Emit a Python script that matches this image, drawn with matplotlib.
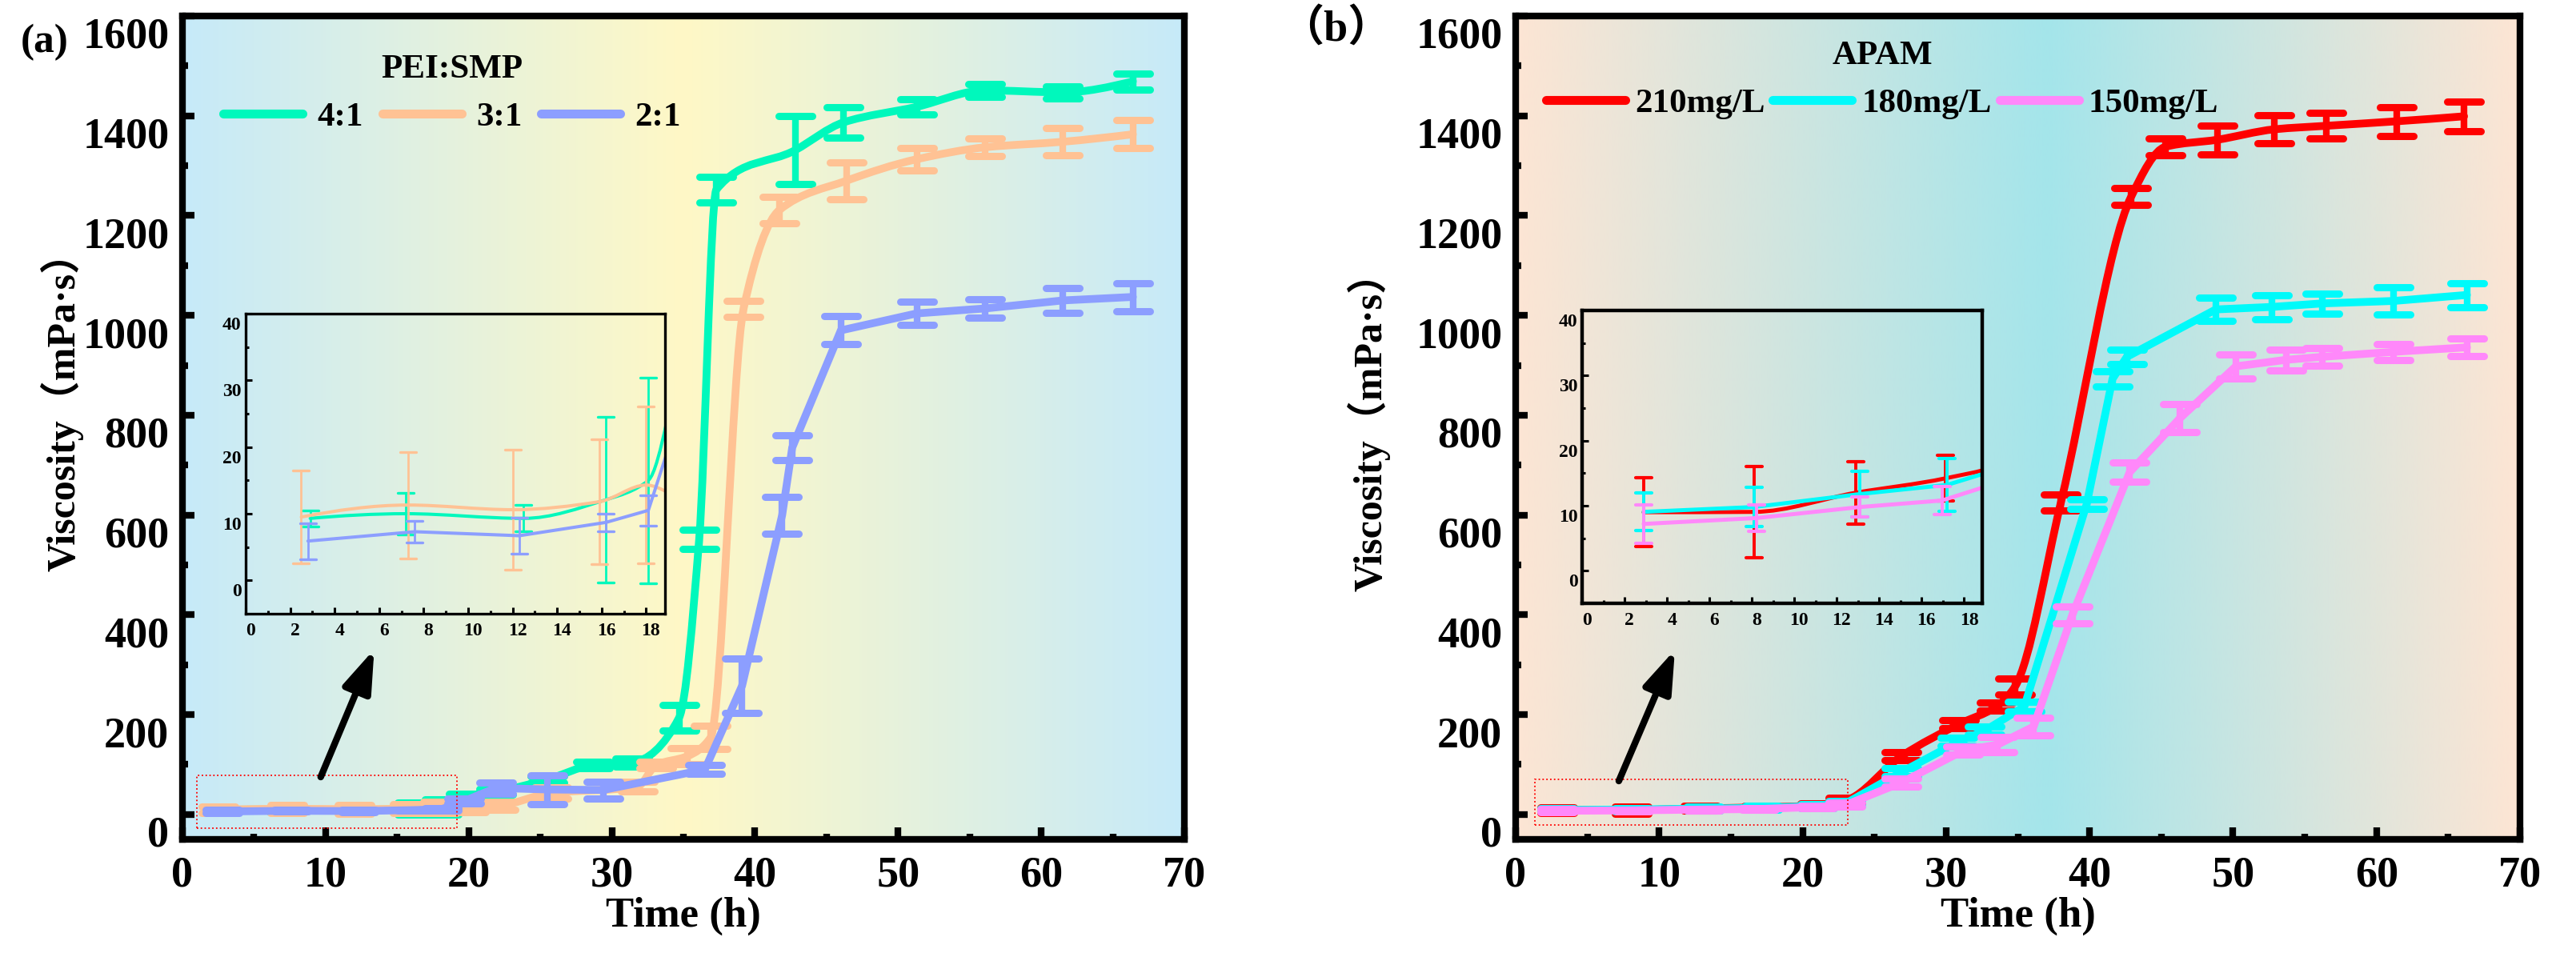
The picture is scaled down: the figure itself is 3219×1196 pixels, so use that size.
import numpy as np
import matplotlib
matplotlib.use('Agg')
import matplotlib.pyplot as plt
from matplotlib.path import Path
from matplotlib.patches import PathPatch, Rectangle
from matplotlib.lines import Line2D
from matplotlib.markers import MarkerStyle
import matplotlib.transforms as mtransforms
from matplotlib.colors import to_rgb
from matplotlib.ticker import MultipleLocator

plt.rcParams['font.family'] = ['Liberation Serif', 'Noto Sans CJK SC', 'DejaVu Sans']
plt.rcParams['font.weight'] = 'bold'
plt.rcParams['axes.labelweight'] = 'bold'

# ---------------- data : panel (a) PEI:SMP ----------------
a_labels = ['4:1', '3:1', '2:1']
a_colors = ['#00F8BC', '#FFC294', '#8C9EFF']
a_x_41 = [2.9, 7.2, 12.5, 16.2, 18.1, 19.8, 21.9, 25.5, 28.7, 31.4, 34.7, 36.1, 37.3, 42.8, 46.2, 51.3, 56.1, 61.5, 66.4]
a_y_41 = [9.3, 10.0, 9.3, 12.1, 15.0, 35, 45, 70, 99, 104, 194, 551, 1252, 1331, 1387, 1418, 1451, 1447, 1469]
a_e_41 = [1.2, 3.1, 2.0, 12.4, 15.4, 6, 6, 6, 7, 8, 26, 19, 25, 68, 30, 15, 13, 12, 16]
a_x_31 = [2.5, 7.3, 12.0, 15.9, 18.0, 20.0, 22.1, 25.8, 31.8, 33.1, 35.3, 36.9, 39.2, 41.7, 46.4, 51.3, 56.1, 61.5, 66.4]
a_y_31 = [9.5, 11.3, 10.6, 11.8, 14.3, 12, 17, 43, 56, 99, 117, 154, 1013, 1211, 1270, 1313, 1337, 1348, 1363]
a_e_31 = [7.0, 8.0, 9.0, 9.4, 11.8, 8, 8, 12, 10, 6, 16, 23, 16, 27, 37, 23, 18, 27, 28]
a_x_21 = [2.8, 7.6, 12.3, 16.2, 18.1, 19.7, 21.9, 25.5, 29.4, 36.5, 39.1, 41.9, 42.6, 46.0, 51.3, 56.1, 61.5, 66.4]
a_y_21 = [5.9, 7.3, 6.7, 8.7, 10.5, 27, 53, 50, 49, 90, 258, 600, 735, 970, 1004, 1014, 1030, 1037]
a_e_21 = [2.7, 1.6, 2.7, 1.3, 2.3, 5, 11, 29, 17, 9, 54, 37, 25, 28, 23, 19, 25, 28]

# ---------------- data : panel (b) APAM ----------------
b_labels = ['210mg/L', '180mg/L', '150mg/L']
b_colors = ['#FF0000', '#00FAFA', '#FF88FA']
b_x_210 = [2.9, 8.1, 12.9, 17.1, 21.0, 23.0, 26.9, 30.9, 33.5, 34.8, 38.0, 42.9, 45.3, 48.9, 52.9, 56.5, 61.4, 66.1]
b_y_210 = [9.0, 9.05, 12.0, 14.2, 18, 28, 117, 181, 216, 256, 625, 1238, 1338, 1352, 1373, 1380, 1389, 1399]
b_e_210 = [5.3, 7.0, 4.8, 3.5, 4, 5, 8, 8, 8, 16, 16, 17, 17, 29, 28, 26, 29, 30]
b_x_180 = [2.9, 8.1, 13.1, 17.2, 21.0, 23.0, 26.9, 30.8, 32.7, 35.45, 39.8, 41.6, 42.6, 48.8, 52.7, 56.2, 61.2, 66.3]
b_y_180 = [9.05, 9.8, 11.8, 13.2, 17, 22, 85, 145, 168, 216, 622, 873, 917, 1012, 1017, 1024, 1029, 1041]
b_e_180 = [2.9, 3.05, 3.5, 4.0, 4, 5, 8, 8, 8, 10, 10, 15, 15, 23, 24, 20, 27, 24]
b_x_150 = [2.9, 8.2, 13.1, 16.95, 21.0, 23.0, 26.9, 31.2, 33.6, 36.1, 38.8, 42.8, 46.3, 50.2, 53.7, 56.2, 61.2, 66.3]
b_y_150 = [7.2, 8.1, 9.8, 10.8, 15, 19, 64, 128, 140, 176, 400, 686, 794, 898, 911, 917, 927, 936]
b_e_150 = [2.95, 2.0, 1.5, 2.1, 3, 4, 8, 8, 16, 17, 17, 19, 28, 24, 21, 17, 16, 18]

x_ticks = [0, 10, 20, 30, 40, 50, 60, 70]
y_ticks = [0, 200, 400, 600, 800, 1000, 1200, 1400, 1600]
in_x_ticks = [0, 2, 4, 6, 8, 10, 12, 14, 16, 18]
in_y_ticks = [0, 10, 20, 30, 40]

W, H = 3219, 1196
fig = plt.figure(figsize=(W / 100, H / 100), dpi=100)


def px_axes(l, r, t, b):
    return [l / W, 1 - b / H, (r - l) / W, (b - t) / H]


def pchip_slopes(x, y):
    x = np.asarray(x, float); y = np.asarray(y, float)
    h = np.diff(x); d = np.diff(y) / h
    n = len(x)
    m = np.zeros(n)
    for k in range(1, n - 1):
        if d[k - 1] * d[k] > 0:
            w1 = 2 * h[k] + h[k - 1]
            w2 = h[k] + 2 * h[k - 1]
            m[k] = (w1 + w2) / (w1 / d[k - 1] + w2 / d[k])

    def edge(h0, h1, m0, m1):
        dd = ((2 * h0 + h1) * m0 - h0 * m1) / (h0 + h1)
        if np.sign(dd) != np.sign(m0):
            dd = 0.0
        elif np.sign(m0) != np.sign(m1) and abs(dd) > 3 * abs(m0):
            dd = 3 * m0
        return dd
    m[0] = edge(h[0], h[1], d[0], d[1])
    m[-1] = edge(h[-1], h[-2], d[-1], d[-2])
    return m


def smooth_path(x, y):
    x = np.asarray(x, float); y = np.asarray(y, float)
    m = pchip_slopes(x, y)
    verts = [(x[0], y[0])]
    codes = [Path.MOVETO]
    for i in range(len(x) - 1):
        h = x[i + 1] - x[i]
        verts += [(x[i] + h / 3, y[i] + m[i] * h / 3),
                  (x[i + 1] - h / 3, y[i + 1] - m[i + 1] * h / 3),
                  (x[i + 1], y[i + 1])]
        codes += [Path.CURVE4] * 3
    return Path(verts, codes)


def draw_series(ax, x, y, e, color, smooth, lw, elw, capsize, capthick, z):
    if smooth:
        ax.add_patch(PathPatch(smooth_path(x, y), fill=False, edgecolor=color, lw=lw,
                               capstyle='round', joinstyle='round', zorder=z))
    else:
        ax.plot(x, y, color=color, lw=lw, solid_capstyle='round',
                solid_joinstyle='round', zorder=z)
    eb = ax.errorbar(x, y, yerr=e, fmt='none', ecolor=color, elinewidth=elw,
                     capsize=capsize, capthick=capthick, zorder=z)
    for cl in eb[1]:
        cl.set_marker(MarkerStyle('_', capstyle='round'))


def gradient_bg(ax, stops, xlim, ylim):
    pos = np.array([s[0] for s in stops])
    cols = np.array([to_rgb(s[1]) for s in stops])
    t = np.linspace(0, 1, 600)
    img = np.stack([np.interp(t, pos, cols[:, i]) for i in range(3)], axis=-1)[None, :, :]
    ax.imshow(img, extent=[xlim[0], xlim[1], ylim[0], ylim[1]], aspect='auto',
              zorder=0, interpolation='bilinear')


def style_main(ax):
    ax.set_xlim(0, 70)
    ax.set_ylim(-50, 1600)
    ax.set_xticks(x_ticks)
    ax.set_yticks(y_ticks)
    ax.xaxis.set_minor_locator(MultipleLocator(5))
    ax.yaxis.set_minor_locator(MultipleLocator(100))
    for s in ax.spines.values():
        s.set_linewidth(6)
        s.set_zorder(20)
    ax.tick_params(which='both', direction='in', top=False, right=False, width=6, zorder=21)
    ax.tick_params(which='major', length=11)
    ax.tick_params(which='minor', length=5)
    ax.tick_params(axis='x', labelsize=39, pad=15)
    ax.tick_params(axis='y', labelsize=39, pad=12)
    off = mtransforms.ScaledTranslation(0, -0.21, fig.dpi_scale_trans)
    for lab in ax.get_yticklabels():
        lab.set_transform(lab.get_transform() + off)
    ax.set_xlabel('Time (h)', fontsize=38, fontweight='bold', va='center')
    ax.xaxis.set_label_coords(0.5, -0.093)


def style_inset(ax, spw):
    ax.set_facecolor('none')
    ax.set_xlim(0, 18.85)
    ax.set_ylim(-5, 40)
    ax.set_xticks(in_x_ticks)
    ax.set_yticks(in_y_ticks)
    ax.xaxis.set_minor_locator(MultipleLocator(1))
    ax.yaxis.set_minor_locator(MultipleLocator(5))
    for s in ax.spines.values():
        s.set_linewidth(spw)
        s.set_zorder(20)
    ax.tick_params(which='both', direction='in', top=False, right=False, width=2.2)
    ax.tick_params(which='major', length=5.5)
    ax.tick_params(which='minor', length=3)
    ax.tick_params(axis='x', labelsize=17, pad=8)
    ax.tick_params(axis='y', labelsize=17, pad=4)
    offy = mtransforms.ScaledTranslation(0, -0.12, fig.dpi_scale_trans)
    for lab in ax.get_yticklabels():
        lab.set_transform(lab.get_transform() + offy)
    offx = mtransforms.ScaledTranslation(0.06, 0, fig.dpi_scale_trans)
    for lab in ax.get_xticklabels():
        lab.set_transform(lab.get_transform() + offx)


leg_prop = {'family': ['Liberation Serif'], 'weight': 'bold', 'size': 31}
MAIN_LW, MAIN_ELW, MAIN_CS, MAIN_CT = 7, 6, 15, 6.5

# ================= panel (a) =================
axa = fig.add_axes(px_axes(228, 1480, 20, 1049))
gradient_bg(axa, [(0, '#C6EAF9'), (0.5, '#FFF8C6'), (1, '#C6EAF9')], (0, 70), (-50, 1600))
a_series = [(a_x_41, a_y_41, a_e_41, True), (a_x_31, a_y_31, a_e_31, True), (a_x_21, a_y_21, a_e_21, False)]
for i, (x, y, e, sm) in enumerate(a_series):
    draw_series(axa, x, y, e, a_colors[i], sm, MAIN_LW, MAIN_ELW, MAIN_CS, MAIN_CT, 3 + i)
style_main(axa)
axa.set_ylabel('Viscosity（mPa·s）', fontsize=36, fontweight='bold', va='center')
axa.yaxis.set_label_coords(-0.1206, 0.5316)
axa.add_patch(Rectangle((1.0, -27), 18.2, 105, fill=False, ec='red', lw=1.3, ls=':', zorder=8))
axa.annotate('', xy=(13.4, 331), xytext=(9.66, 75),
             arrowprops=dict(arrowstyle='-|>,head_length=3.2,head_width=1.1', color='black',
                             lw=6, shrinkA=0, shrinkB=0, mutation_scale=10), zorder=9)
ha = [Line2D([], [], color=c, lw=8, solid_capstyle='round') for c in a_colors]
axa.legend(ha, a_labels, ncol=3, frameon=False, prop=leg_prop, title='PEI:SMP',
           title_fontproperties=leg_prop, loc='upper center',
           bbox_to_anchor=((565 - 228) / 1252, (1049 - 46) / 1029), borderpad=0,
           handlelength=2.3, handletextpad=0.42, columnspacing=0.56)
fig.text(56 / W, 1 - 53 / H, '(a)', fontsize=37, fontweight='bold', ha='center', va='center')

ina = fig.add_axes(px_axes(307, 831, 392, 767))
for i, (x, y, e, sm) in enumerate(a_series):
    draw_series(ina, x, y, e, a_colors[i], sm, 2.9, 2.0, 7, 2.4, 3 + i)
style_inset(ina, 2.4)

# ================= panel (b) =================
axb = fig.add_axes(px_axes(1894, 3149, 20, 1049))
gradient_bg(axb, [(0, '#FDE5D4'), (0.53, '#A4E5EB'), (1, '#FDE5D4')], (0, 70), (-50, 1600))
b_series = [(b_x_210, b_y_210, b_e_210, True), (b_x_180, b_y_180, b_e_180, False), (b_x_150, b_y_150, b_e_150, False)]
for i, (x, y, e, sm) in enumerate(b_series):
    draw_series(axb, x, y, e, b_colors[i], sm, MAIN_LW, MAIN_ELW, MAIN_CS, MAIN_CT, 3 + i)
style_main(axb)
axb.set_ylabel('Viscosity（mPa·s）', fontsize=36, fontweight='bold', va='center')
axb.yaxis.set_label_coords(-0.1466, 0.5073)
axb.add_patch(Rectangle((1.34, -21), 21.8, 91, fill=False, ec='red', lw=1.3, ls=':', zorder=8))
axb.annotate('', xy=(11.1, 330), xytext=(7.19, 67),
             arrowprops=dict(arrowstyle='-|>,head_length=3.2,head_width=1.1', color='black',
                             lw=6, shrinkA=0, shrinkB=0, mutation_scale=10), zorder=9)
hb = [Line2D([], [], color=c, lw=8, solid_capstyle='round') for c in b_colors]
axb.legend(hb, b_labels, ncol=3, frameon=False, prop=leg_prop, title='APAM',
           title_fontproperties=leg_prop, loc='upper center',
           bbox_to_anchor=((2352 - 1894) / 1255, (1049 - 29) / 1029), borderpad=0,
           handlelength=2.3, handletextpad=0.28, columnspacing=0.23)
fig.text(1669 / W, 1 - 38 / H, '（b）', fontsize=39, fontweight='bold', ha='center', va='center')

inb = fig.add_axes(px_axes(1977, 2477, 388, 754))
for i, (x, y, e, sm) in enumerate(b_series):
    draw_series(inb, x, y, e, b_colors[i], sm, 3.6, 2.8, 7, 3.0, 3 + i)
style_inset(inb, 3.2)

fig.savefig('out.png', dpi=100)
